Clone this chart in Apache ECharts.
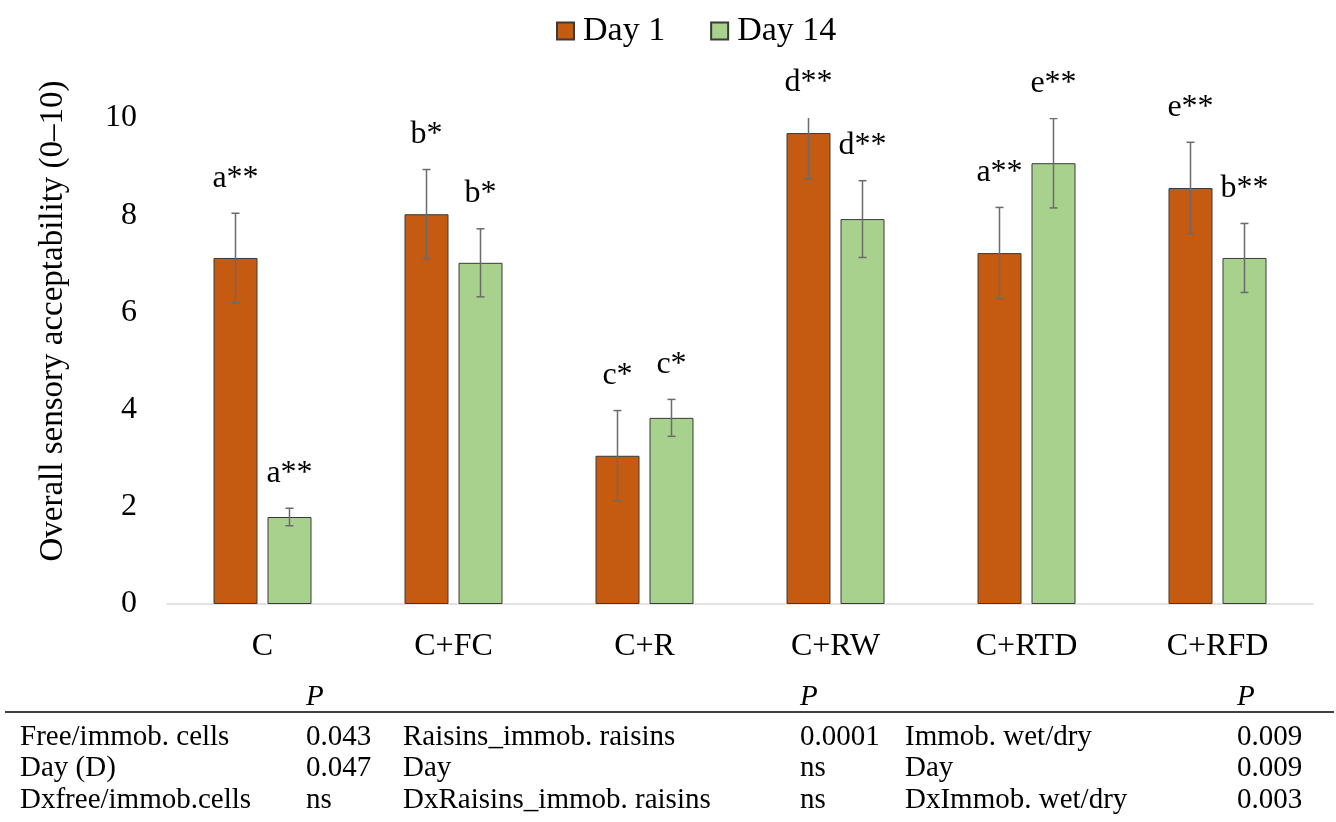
<!DOCTYPE html>
<html><head><meta charset="utf-8">
<script src="https://cdn.jsdelivr.net/npm/echarts@6/dist/echarts.min.js"></script>
<style>html,body{margin:0;padding:0;background:#fff}#chart{width:1336px;height:822px}</style>
</head><body><div id="chart"></div>
<script>
const categories = ['C', 'C+FC', 'C+R', 'C+RW', 'C+RTD', 'C+RFD'];
const day1 = [7.12, 8.02, 3.05, 9.69, 7.22, 8.56];
const day14 = [1.79, 7.02, 3.83, 7.92, 9.07, 7.12];
const day1Err = [0.92, 0.92, 0.93, 0.95, 0.94, 0.94];
const day14Err = [0.18, 0.70, 0.38, 0.79, 0.92, 0.71];
const day1Labels = ['a**', 'b*', 'c*', 'd**', 'a**', 'e**'];
const day14Labels = ['a**', 'b*', 'c*', 'd**', 'e**', 'b**'];
const yTicks = [0, 2, 4, 6, 8, 10];
const yTitle = 'Overall sensory acceptability (0\u201310)';
const tableHeaderP = 'P';
const tableCol1 = ['Free/immob. cells', 'Day (D)', 'Dxfree/immob.cells'];
const tableCol2 = ['0.043', '0.047', 'ns'];
const tableCol3 = ['Raisins_immob. raisins', 'Day', 'DxRaisins_immob. raisins'];
const tableCol4 = ['0.0001', 'ns', 'ns'];
const tableCol5 = ['Immob. wet/dry', 'Day', 'DxImmob. wet/dry'];
const tableCol6 = ['0.009', '0.009', '0.003'];

const FONT = 'Liberation Serif';
const BAR_W = 44, GAP = 10;
const OFF = (BAR_W + GAP) / 2;
const YMAX = 10;

const chart = echarts.init(document.getElementById('chart'), null, {renderer: 'canvas'});

function errData(vals, errs) {
  return vals.map((v, i) => [i, v - errs[i], v + errs[i], v]);
}
function labelData(vals, errs, labels) {
  return vals.map((v, i) => [i, Math.min(v + errs[i], YMAX), labels[i]]);
}
function errRender(offset) {
  return function (params, api) {
    const i = api.value(0);
    const lo = api.coord([i, api.value(1)]);
    const hi = api.coord([i, api.value(2)]);
    const x = lo[0] + offset;
    const cap = 4;
    const st = {stroke: '#6b6b6b', lineWidth: 1.5};
    return {
      type: 'group',
      children: [
        {type: 'line', shape: {x1: x, y1: lo[1], x2: x, y2: hi[1]}, style: st},
        {type: 'line', shape: {x1: x - cap, y1: lo[1], x2: x + cap, y2: lo[1]}, style: st},
        {type: 'line', shape: {x1: x - cap, y1: hi[1], x2: x + cap, y2: hi[1]}, style: st}
      ]
    };
  };
}
function labelRender(offset) {
  return function (params, api) {
    const i = api.value(0);
    const p = api.coord([i, api.value(1)]);
    return {
      type: 'text',
      x: p[0] + offset,
      y: p[1] - 35,
      style: {
        text: api.value(2),
        fill: '#000',
        font: '32px "' + FONT + '"',
        textAlign: 'center',
        textVerticalAlign: 'middle'
      }
    };
  };
}

const graphics = [];
graphics.push({
  type: 'text', x: 53, y: 321, rotation: Math.PI / 2,
  style: {text: yTitle, fill: '#000', font: '33px "' + FONT + '"', textAlign: 'center', textVerticalAlign: 'middle'}
});
const colX = [20, 306, 403, 800, 905, 1237];
const rowY = [737, 768, 800];
[1, 3, 5].forEach(c => {
  graphics.push({type: 'text', x: colX[c], y: 697,
    style: {text: tableHeaderP, fill: '#000', font: 'italic 29px "' + FONT + '"', textAlign: 'left', textVerticalAlign: 'middle'}});
});
graphics.push({type: 'line', shape: {x1: 5, y1: 712, x2: 1334, y2: 712}, style: {stroke: '#000', lineWidth: 1.5}});
[tableCol1, tableCol2, tableCol3, tableCol4, tableCol5, tableCol6].forEach((col, c) => {
  col.forEach((t, r) => {
    graphics.push({type: 'text', x: colX[c], y: rowY[r],
      style: {text: t, fill: '#000', font: '29px "' + FONT + '"', textAlign: 'left', textVerticalAlign: 'middle'}});
  });
});

chart.setOption({
  animation: false,
  backgroundColor: '#fff',
  legend: {
    data: ['Day 1', 'Day 14'],
    top: 9, left: 551,
    icon: 'rect', itemWidth: 17, itemHeight: 17, itemGap: 45,
    textStyle: {fontFamily: FONT, fontSize: 34, color: '#000', padding: [0, 0, 0, 4]}
  },
  grid: {left: 167, right: 23, top: 118, bottom: 218, containLabel: false},
  xAxis: {
    type: 'category', data: categories,
    axisLine: {lineStyle: {color: '#d9d9d9', width: 1.5}},
    axisTick: {show: false},
    axisLabel: {fontFamily: FONT, fontSize: 32, color: '#000', margin: 27}
  },
  yAxis: {
    type: 'value', min: 0, max: YMAX, interval: 2,
    axisLine: {show: false}, axisTick: {show: false}, splitLine: {show: false},
    axisLabel: {fontFamily: FONT, fontSize: 32, color: '#000', margin: 30,
      formatter: v => yTicks.includes(v) ? String(v) : ''}
  },
  graphic: graphics,
  series: [
    {name: 'Day 1', type: 'bar', data: day1, barWidth: BAR_W, barGap: (GAP / BAR_W * 100) + '%',
      itemStyle: {color: '#C55A11', borderColor: '#3a3a3a', borderWidth: 1}},
    {name: 'Day 14', type: 'bar', data: day14, barWidth: BAR_W,
      itemStyle: {color: '#A9D18E', borderColor: '#3a3a3a', borderWidth: 1}},
    {type: 'custom', data: errData(day1, day1Err), renderItem: errRender(-OFF), clip: true, z: 5,
      encode: {x: 0, y: [1, 2]}, silent: true},
    {type: 'custom', data: errData(day14, day14Err), renderItem: errRender(OFF), clip: true, z: 5,
      encode: {x: 0, y: [1, 2]}, silent: true},
    {type: 'custom', data: labelData(day1, day1Err, day1Labels), renderItem: labelRender(-OFF), clip: false, z: 6,
      encode: {x: 0, y: 1}, silent: true},
    {type: 'custom', data: labelData(day14, day14Err, day14Labels), renderItem: labelRender(OFF), clip: false, z: 6,
      encode: {x: 0, y: 1}, silent: true}
  ]
});
</script></body></html>
